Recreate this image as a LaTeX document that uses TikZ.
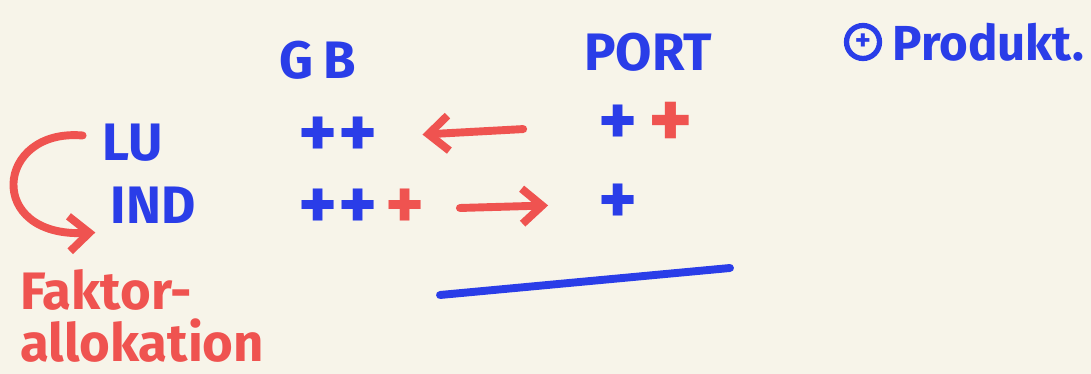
\documentclass[tikz,border=0pt]{standalone}
\usepackage{fontspec}
\setmainfont{Fira Sans}
\usepackage{xcolor}
\usetikzlibrary{arrows.meta,positioning}

\definecolor{penblue}{HTML}{2A3DE8}
\definecolor{penred}{HTML}{EF5350}
\definecolor{paper}{HTML}{F7F4E9}

\begin{document}
\begin{tikzpicture}[
    x=0.02cm, y=-0.02cm,
    node distance=0.1cm,
    bluetxt/.style={text=penblue,inner sep=0pt,font=\bfseries\fontsize{30}{30}\selectfont},
    redtxt/.style={text=penred,inner sep=0pt,font=\bfseries\fontsize{30}{34}\selectfont},
    plus/.style={inner sep=0pt,font=\bfseries\fontsize{42}{42}\selectfont},
    pen/.style={line width=4.5pt,line cap=round},
    penarrow/.style={pen,-{Straight Barb[length=4mm,width=7mm,line width=4.5pt]}}
]
\useasboundingbox (0,0) rectangle (1091,374);
\fill[paper] (0,0) rectangle (1091,374);

% column heads
\node[bluetxt] (gb) at (318,60) {G\hspace{0.2em}B};
\node[bluetxt] (port) at (648,52) {PORT};
\node[circle,draw=penblue,line width=3pt,minimum size=0.66cm,inner sep=0pt,text=penblue,font=\bfseries\LARGE] (oplus) at (863,42) {+};
\node[bluetxt,right=0.2cm of oplus,font=\bfseries\fontsize{28}{28}\selectfont] (prod) {Produkt.};

% rows
\node[bluetxt] (lu) at (133,143) {LU};
\node[bluetxt] (ind) at (153,205) {IND};

\node[plus,text=penblue] (lgb) at (338,137) {++};
\node[plus,text=penblue] (lportb) at (618,125) {+};
\node[plus,text=penred,right=0.2cm of lportb,font=\bfseries\fontsize{48}{48}\selectfont] (lportr) {+};

\node[plus,text=penblue] (igb) at (338,209) {++};
\node[plus,text=penred,right=0.15cm of igb] (igbr) {+};
\node[plus,text=penblue] (iport) at (618,204) {+};

% shifts
\draw[penarrow,penred,shorten <=1.5cm,shorten >=0.9cm] (lportb.west) -- (lgb.east);
\draw[penarrow,penred,shorten <=0.7cm,shorten >=1cm] (igbr.east) -- (iport.west);
\draw[penarrow,penred] ([xshift=-0.4cm,yshift=0.15cm]lu.west) .. controls (-5,128) and (-15,238) .. ([xshift=-0.3cm,yshift=-0.55cm]ind.west);

% note
\node[redtxt,anchor=west] (fak) at (20,290) {Faktor-};
\node[redtxt,anchor=north west] (allok) at ([yshift=-0.15cm]fak.south west) {allokation};

\coordinate (line1) at (440,295);
\coordinate (line2) at (730,268);
\draw[pen,penblue] (line1) -- (line2);
\end{tikzpicture}
\end{document}
